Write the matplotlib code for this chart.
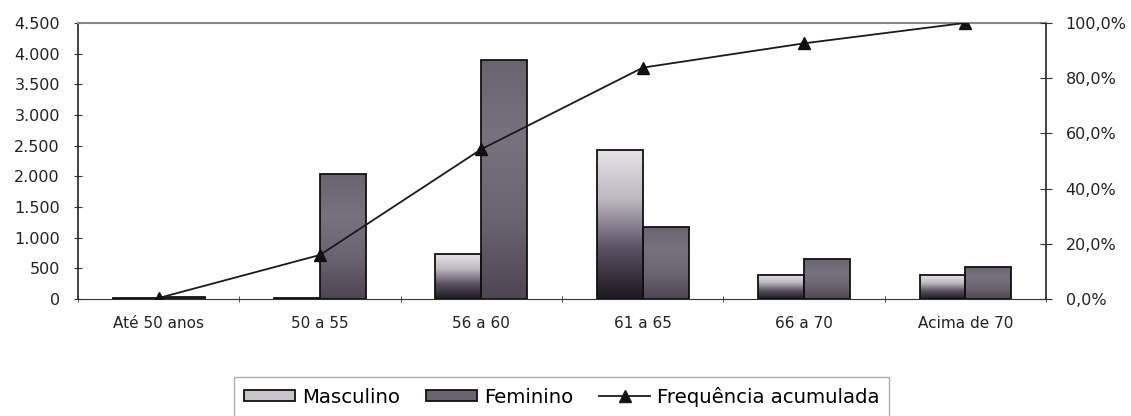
import numpy as np
import matplotlib.pyplot as plt
from matplotlib.colors import LinearSegmentedColormap
from matplotlib.patches import Patch
from matplotlib.lines import Line2D
from matplotlib.ticker import FuncFormatter

plt.rcParams['font.family'] = ['DejaVu Sans']

categorias = ['Até 50 anos', '50 a 55', '56 a 60', '61 a 65', '66 a 70', 'Acima de 70']
masculino = [15, 10, 730, 2430, 400, 390]
feminino = [30, 2030, 3900, 1180, 650, 530]
freq_acum = [0.4, 16.0, 54.3, 83.8, 92.6, 100.0]

cmap_masc = LinearSegmentedColormap.from_list('masc', ['#1e1822', '#5a5060', '#bdb8c2', '#e6e3e8'])
cmap_fem = LinearSegmentedColormap.from_list('fem', ['#4e4652', '#6a6470', '#77727d', '#6a6470'])


def fill_gradient(ax, bars, cmap):
    grad = np.linspace(0, 1, 256).reshape(-1, 1)
    for b in bars:
        x0, y0 = b.get_x(), b.get_y()
        w, h = b.get_width(), b.get_height()
        if h <= 0:
            continue
        im = ax.imshow(grad, cmap=cmap, aspect='auto', origin='lower',
                       extent=(x0, x0 + w, y0, y0 + h), zorder=b.get_zorder() - 0.1)
        im.set_clip_path(b)
        b.set_facecolor('none')


fig = plt.figure(figsize=(11.31, 4.16), dpi=100)
ax = fig.add_axes([0.069, 0.281, 0.856, 0.664])

x = np.arange(len(categorias))
w = 0.285
b1 = ax.bar(x - w / 2, masculino, w, edgecolor='#111111', linewidth=1.3, zorder=3)
b2 = ax.bar(x + w / 2, feminino, w, edgecolor='#111111', linewidth=1.3, zorder=3)
fill_gradient(ax, b1, cmap_masc)
fill_gradient(ax, b2, cmap_fem)

ax.set_xlim(-0.5, len(categorias) - 0.5)
ax.set_ylim(0, 4500)
ax.set_yticks(np.arange(0, 4501, 500))
ax.yaxis.set_major_formatter(FuncFormatter(lambda v, p: f'{int(v):,}'.replace(',', '.')))
ax.set_xticks(x)
ax.set_xticklabels(categorias, fontsize=11, color='#222222')
ax.set_xticks(np.arange(-0.5, len(categorias)), minor=True)
ax.tick_params(axis='x', which='major', length=0, pad=12)
ax.tick_params(axis='x', which='minor', length=5, direction='inout', color='#333333')
ax.tick_params(axis='y', labelsize=11.5, labelcolor='#222222', length=6,
               direction='inout', color='#333333', pad=10)

for s in ['left', 'right']:
    ax.spines[s].set_color('#222222')
    ax.spines[s].set_linewidth(1.2)
ax.spines['bottom'].set_color('#333333')
ax.spines['top'].set_color('#888888')
ax.spines['top'].set_linewidth(1.5)

ax2 = ax.twinx()
ax2.plot(x, freq_acum, color='#1a1a1a', linewidth=1.3, marker='^', markersize=8,
         markerfacecolor='#111111', markeredgecolor='#111111', zorder=5)
ax2.set_ylim(0, 100)
ax2.set_yticks(np.arange(0, 101, 20))
ax2.yaxis.set_major_formatter(FuncFormatter(lambda v, p: f'{v:.1f}%'.replace('.', ',')))
ax2.tick_params(axis='y', labelsize=11.5, labelcolor='#222222', length=8,
                direction='inout', color='#333333', pad=10)
for s in ax2.spines.values():
    s.set_visible(False)

handles = [
    Patch(facecolor='#c8c4cc', edgecolor='#111111', linewidth=1.3),
    Patch(facecolor='#6a6470', edgecolor='#111111', linewidth=1.3),
    Line2D([0], [0], color='#1a1a1a', linewidth=1.3, marker='^', markersize=8,
           markerfacecolor='#111111'),
]
leg = fig.legend(handles, ['Masculino', 'Feminino', 'Frequência acumulada'],
                 loc='upper left', bbox_to_anchor=(0.207, 0.094), ncol=3,
                 fontsize=14.2, frameon=True, fancybox=False, edgecolor='#999999',
                 handlelength=2.6, handleheight=0.5, handletextpad=0.35,
                 columnspacing=1.3, borderpad=0.5, borderaxespad=0)
leg.get_frame().set_linewidth(1.0)

fig.savefig('out.png', dpi=100)
